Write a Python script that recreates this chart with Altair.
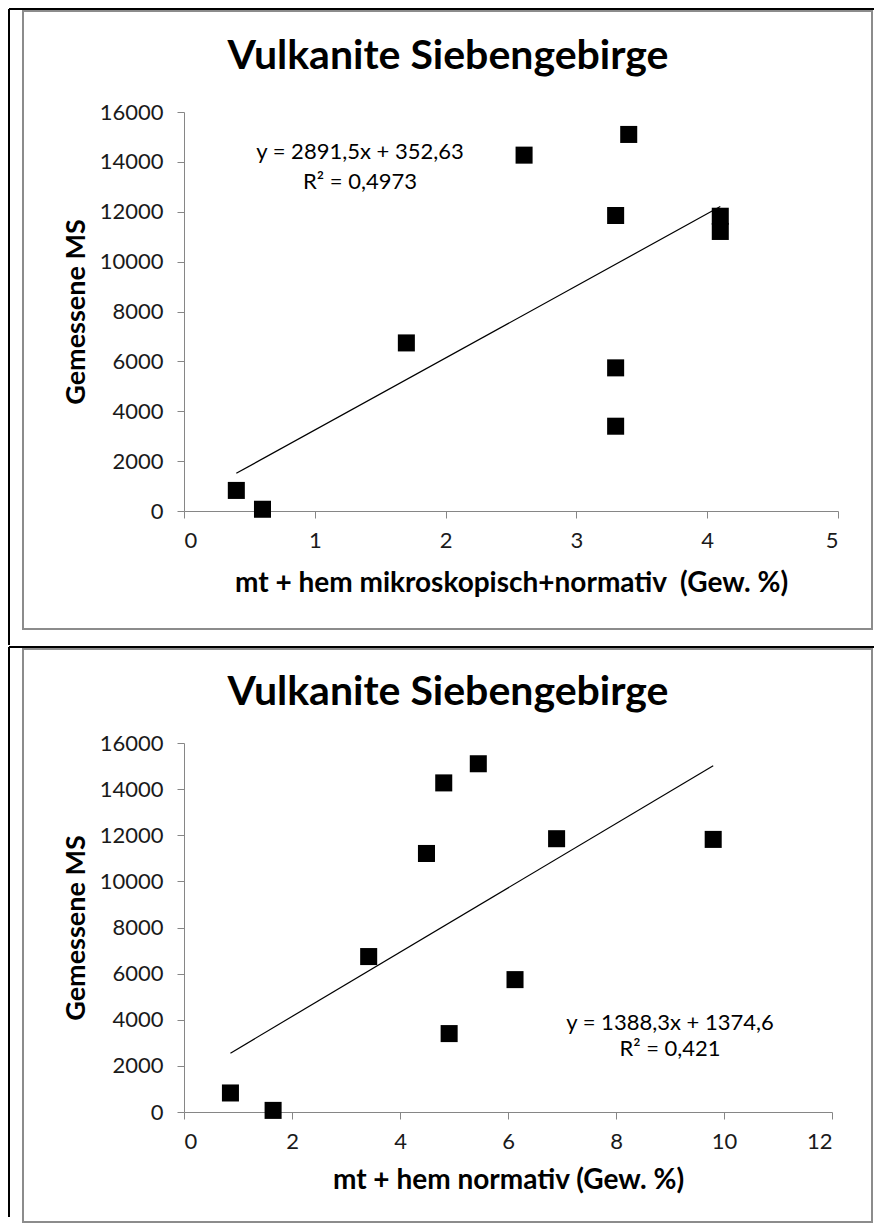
import altair as alt
import pandas as pd

# ---------------- data ----------------
ms_gemessen = [825, 70, 6740, 14270, 15100, 11850, 5740, 3400, 11820, 11210]
mt_hem_mikro_normativ = [0.4, 0.6, 1.7, 2.6, 3.4, 3.3, 3.3, 3.3, 4.1, 4.1]
mt_hem_normativ = [0.86, 1.65, 3.42, 4.81, 5.45, 6.9, 6.13, 4.91, 9.8, 4.49]

y_ticks = [0, 2000, 4000, 6000, 8000, 10000, 12000, 14000, 16000]
x_ticks_top = [0, 1, 2, 3, 4, 5]
x_ticks_bottom = [0, 2, 4, 6, 8, 10, 12]

chart_title = "Vulkanite Siebengebirge"
y_title = "Gemessene MS"
x_title_top = "mt + hem mikroskopisch+normativ \u00a0(Gew. %)"
x_title_bottom = "mt + hem normativ (Gew. %)"
eq_top = ["y = 2891,5x + 352,63", "R\u00b2 = 0,4973"]
eq_bottom = ["y = 1388,3x + 1374,6", "R\u00b2 = 0,421"]

FONT = "Lato"
one = pd.DataFrame({"k": [0]})


def text_layer(txt, x, y, size, weight="normal"):
    return alt.Chart(one).mark_text(
        text=txt, font=FONT, fontSize=size, fontWeight=weight, color="black",
        align="center", baseline="middle"
    ).encode(x=alt.value(x), y=alt.value(y))


def rule(x, y, x2=None, y2=None, color="black", sw=2):
    enc = dict(x=alt.value(x), y=alt.value(y))
    if x2 is not None:
        enc["x2"] = alt.value(x2)
    if y2 is not None:
        enc["y2"] = alt.value(y2)
    return alt.Chart(one).mark_rule(color=color, strokeWidth=sw).encode(**enc)


def panel(xvals, x_ticks, w, h, x_title, x_title_y, title_y, eq, eq_x, eq_y, eq_gap,
          box, black_lines):
    df = pd.DataFrame({"x": xvals, "ms": ms_gemessen})
    xs = alt.Scale(domain=[x_ticks[0], x_ticks[-1]], nice=False)
    ys = alt.Scale(domain=[y_ticks[0], y_ticks[-1]], nice=False)
    xenc = alt.X("x:Q", scale=xs, axis=alt.Axis(
        values=x_ticks, format="d", title=x_title, titleX=w / 2, titleY=x_title_y,
        titleAlign="center", titleBaseline="middle", titleFontSize=28))
    yenc = alt.Y("ms:Q", scale=ys, axis=alt.Axis(
        values=y_ticks, format="d", title=y_title, titleX=-108, titleY=h / 2,
        titleAngle=270, titleAlign="center", titleBaseline="middle", titleFontSize=27))

    bx0, by0, bx1, by1 = box
    box_layer = alt.Chart(one).mark_rect(
        fillOpacity=0, stroke="#8c8c8c", strokeWidth=2
    ).encode(x=alt.value(bx0), x2=alt.value(bx1), y=alt.value(by0), y2=alt.value(by1))

    layers = [box_layer] + [rule(**bl) for bl in black_lines]
    layers.append(text_layer(chart_title, 264, title_y, 41, "bold"))
    layers.append(text_layer(eq[0], eq_x, eq_y, 22))
    layers.append(text_layer(eq[1], eq_x, eq_y + eq_gap, 22))

    trend = alt.Chart(df).transform_regression("x", "ms").mark_line(
        color="black", strokeWidth=1.2).encode(x="x:Q", y="ms:Q")
    pts = alt.Chart(df).mark_square(size=290, color="black", opacity=1, filled=True).encode(
        x=xenc, y=yenc)

    return alt.layer(pts, trend, *layers).properties(width=w, height=h)


top = panel(
    mt_hem_mikro_normativ, x_ticks_top, 654, 399, x_title_top, 72, -55,
    eq_top, 176, 40, 30,
    box=(-161, -101, 688, 517),
    black_lines=[
        dict(x=-175, y=-103, y2=533),
        dict(x=-175, x2=690, y=-103),
    ],
)

bottom = panel(
    mt_hem_normativ, x_ticks_bottom, 648, 369, x_title_bottom, 68, -50,
    eq_bottom, 486, 280, 26,
    box=(-161, -94, 688, 479),
    black_lines=[
        dict(x=-175, y=-96, y2=474),
        dict(x=-175, x2=690, y=-96),
    ],
)

chart = alt.vconcat(top, bottom, spacing=0).properties(
    padding=0
).configure_view(stroke=None).configure_axis(
    grid=False,
    domainColor="#868686", domainWidth=1,
    tickColor="#868686", tickSize=7, tickWidth=1,
    labelFont=FONT, labelFontSize=22, labelColor="#1a1a1a",
    titleFont=FONT, titleFontWeight="bold", titleColor="black",
).configure_axisX(labelPadding=12).configure_axisY(labelPadding=14)

chart.save("out.html", embed_options={"renderer": "svg", "actions": False})
